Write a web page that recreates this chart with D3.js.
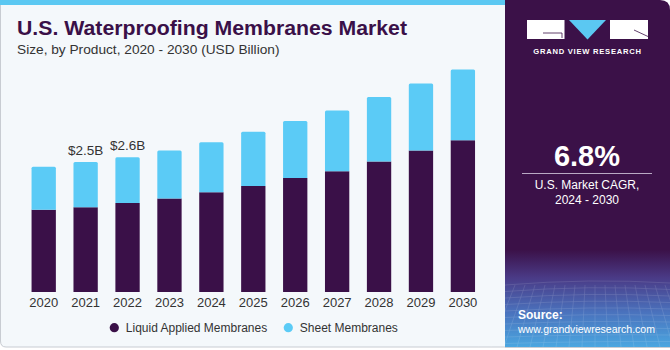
<!DOCTYPE html>
<html><head><meta charset="utf-8">
<script src="https://cdn.jsdelivr.net/npm/d3@7"></script>
<style>html,body{margin:0;padding:0;background:#fff;}svg{display:block;font-family:"Liberation Sans",Arial,sans-serif;}</style>
</head><body><svg id="c" width="670" height="350"></svg>
<script>
const years = ["2020","2021","2022","2023","2024","2025","2026","2027","2028","2029","2030"];
const liquidApplied = [1.58,1.63,1.71,1.80,1.92,2.04,2.19,2.32,2.51,2.72,2.92];
const sheet = [0.83,0.87,0.88,0.92,0.96,1.04,1.10,1.17,1.24,1.29,1.36];
const valueLabels = [{year:"2021", text:"$2.5B"},{year:"2022", text:"$2.6B"}];
const seriesNames = ["Liquid Applied Membranes","Sheet Membranes"];
const colors = ["#3a1048","#5bcbf6"];

const svg = d3.select("#c");
const defs = svg.append("defs");
const g1 = defs.append("linearGradient").attr("id","src").attr("x1",0).attr("y1",0).attr("x2",0).attr("y2",1);
g1.append("stop").attr("offset","0").attr("stop-color","#3b1148");
g1.append("stop").attr("offset","0.72").attr("stop-color","#3b1148");
g1.append("stop").attr("offset","0.80").attr("stop-color","#4a3a86");
g1.append("stop").attr("offset","0.90").attr("stop-color","#4a72bd");
g1.append("stop").attr("offset","1").attr("stop-color","#4aa6e0");

// background
svg.append("path").attr("d","M0,0 H506 V347 H6 Q0,347 0,341 Z").attr("fill","#f4f8fb");
svg.append("path").attr("d","M0.5,4 V341 Q0.5,347 6,347 H506").attr("fill","none").attr("stroke","#c8ccd2").attr("stroke-width",1);
svg.append("rect").attr("x",0).attr("y",0).attr("width",506).attr("height",5).attr("fill","#5bc8f2");
// right panel
svg.append("path").attr("d","M505,0 H660 Q670,0 670,10 V347 H505 Z").attr("fill","url(#src)");
svg.append("line").attr("x1",505).attr("x2",670).attr("y1",347.5).attr("y2",347.5).attr("stroke","#c8ccd2");
// faint grid in source area
const gridG = svg.append("g").attr("opacity",0.18).attr("stroke","#ffffff").attr("stroke-width",0.6).attr("fill","none");
for(let i=0;i<10;i++){ gridG.append("path").attr("d",`M505,${285+i*6.5} Q590,${278+i*7} 670,${283+i*6.5}`); }
for(let i=0;i<18;i++){ const xx=505+i*10; gridG.append("path").attr("d",`M${xx},285 Q${xx+(i-9)*1.5},315 ${xx+(i-9)*3},347`); }

// logo
const lg = svg.append("g");
lg.append("rect").attr("x",527).attr("y",20).attr("width",37.5).attr("height",19).attr("fill","#fff");
lg.append("path").attr("d","M543,33 H562 V38").attr("fill","none").attr("stroke","#3b1148").attr("stroke-width",0.8);
lg.append("path").attr("d","M569,20 H606 L587.5,39.5 Z").attr("fill","#5bc8f2");
lg.append("rect").attr("x",610).attr("y",20).attr("width",38).attr("height",19).attr("fill","#fff");
lg.append("path").attr("d","M634,30 L648,36.5").attr("fill","none").attr("stroke","#3b1148").attr("stroke-width",0.8);
lg.append("text").attr("x",587.5).attr("y",53.5).attr("text-anchor","middle").attr("fill","#fff")
  .attr("font-size",7.6).attr("font-weight","bold").attr("letter-spacing",0.75).text("GRAND VIEW RESEARCH");

// CAGR
svg.append("text").attr("x",587).attr("y",166).attr("text-anchor","middle").attr("fill","#fff")
  .attr("font-size",29).attr("font-weight","bold").text("6.8%");
svg.append("line").attr("x1",522).attr("x2",652).attr("y1",173.5).attr("y2",173.5).attr("stroke","#b9a9c4").attr("stroke-width",1);
svg.append("text").attr("x",587).attr("y",188.5).attr("text-anchor","middle").attr("fill","#fff").attr("font-size",12).text("U.S. Market CAGR,");
svg.append("text").attr("x",587).attr("y",203.5).attr("text-anchor","middle").attr("fill","#fff").attr("font-size",12).text("2024 - 2030");
svg.append("text").attr("x",518).attr("y",319).attr("fill","#fff").attr("font-size",12).attr("font-weight","bold").text("Source:");
svg.append("text").attr("x",518).attr("y",332.5).attr("fill","#fff").attr("font-size",11.5)
  .attr("textLength",137).attr("lengthAdjust","spacingAndGlyphs").text("www.grandviewresearch.com");

// titles
svg.append("text").attr("x",17).attr("y",35).attr("fill","#3a1048").attr("font-size",20).attr("font-weight","bold")
  .attr("textLength",390).attr("lengthAdjust","spacingAndGlyphs").text("U.S. Waterproofing Membranes Market");
svg.append("text").attr("x",17).attr("y",53.5).attr("fill","#333").attr("font-size",13.7)
  .text("Size, by Product, 2020 - 2030 (USD Billion)");

// chart
const x = d3.scaleBand().domain(years).range([10.6,496]).paddingInner(0.42).paddingOuter(0.5);
const y = d3.scaleLinear().domain([0,4.5]).range([292,58]);
const data = years.map((yr,i)=>({year:yr, liquid:liquidApplied[i], sheet:sheet[i]}));
const stack = d3.stack().keys(["liquid","sheet"])(data);
const bars = svg.append("g");
stack.forEach((layer,li)=>{
  bars.selectAll(null).data(layer).enter().append("path")
    .attr("fill",colors[li])
    .attr("d",d=>{
      const x0=x(d.data.year), w=x.bandwidth(), yt=y(d[1]), yb=y(d[0]);
      if(li===1){ const r=1.5; return `M${x0},${yb} V${yt+r} Q${x0},${yt} ${x0+r},${yt} H${x0+w-r} Q${x0+w},${yt} ${x0+w},${yt+r} V${yb} Z`; }
      return `M${x0},${yb} V${yt} H${x0+w} V${yb} Z`;
    });
});
// value labels
valueLabels.forEach(v=>{
  const i = years.indexOf(v.year);
  svg.append("text").attr("x",x(v.year)+x.bandwidth()/2).attr("y",y(liquidApplied[i]+sheet[i])-7.5)
    .attr("text-anchor","middle").attr("fill","#333").attr("font-size",13.5).text(v.text);
});
// axis
const ax = svg.append("g").attr("transform","translate(0,292)").call(d3.axisBottom(x).tickSize(0).tickPadding(6));
ax.select(".domain").remove();
ax.selectAll("text").attr("fill","#333").attr("font-size",13).attr("font-family","Liberation Sans, Arial, sans-serif").attr("dy","0.71em");

// legend
const leg = svg.append("g");
const legX = [114.3, 288.3];
seriesNames.forEach((n,i)=>{
  leg.append("circle").attr("cx",legX[i]).attr("cy",327.7).attr("r",4.6).attr("fill",colors[i]);
  leg.append("text").attr("x",legX[i]+11.5).attr("y",332).attr("fill","#333").attr("font-size",12).text(n);
});
</script></body></html>
